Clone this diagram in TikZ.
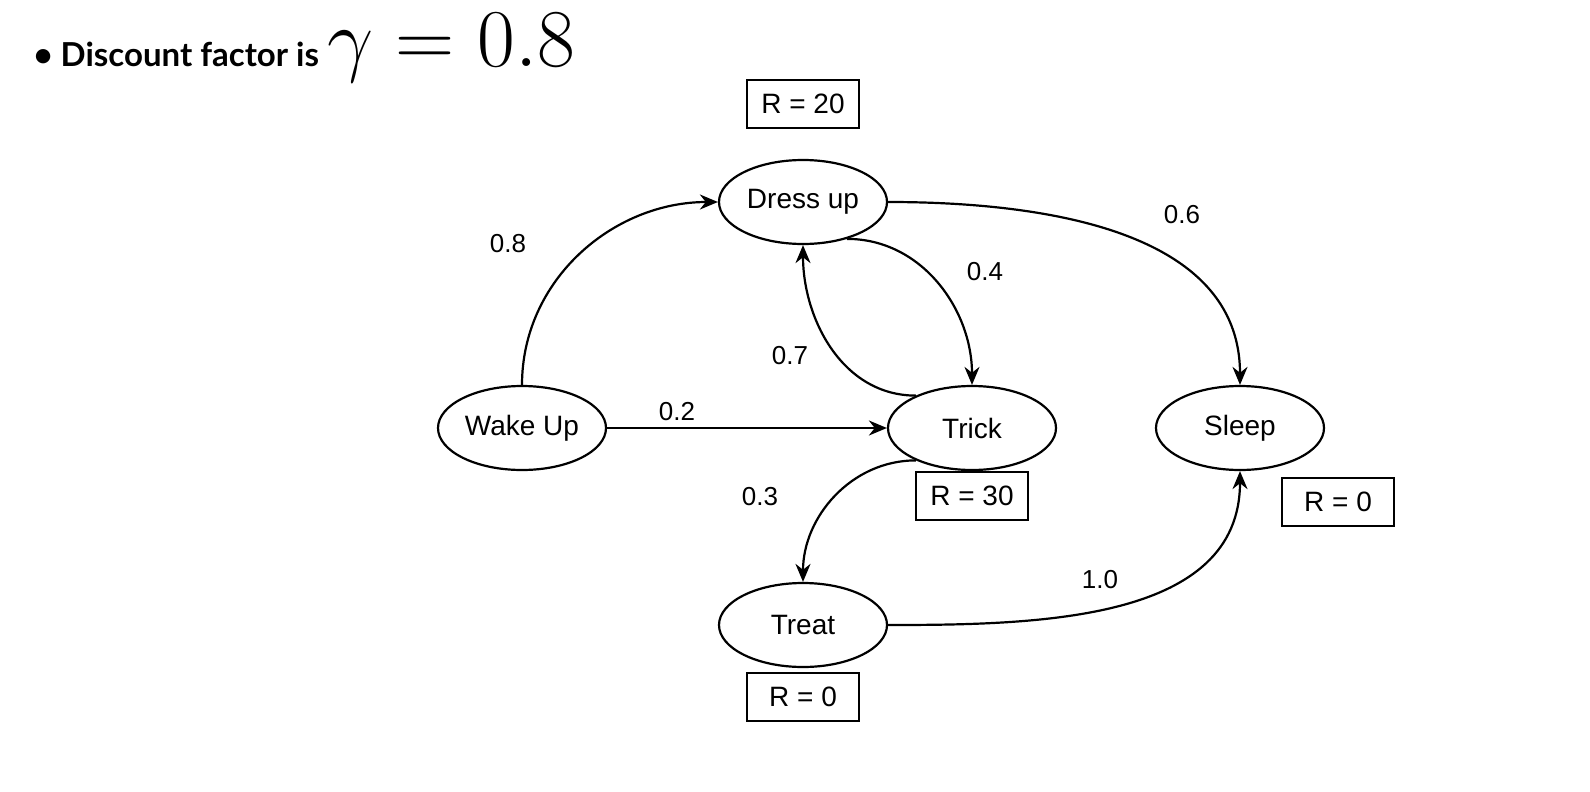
\documentclass[tikz,border=0pt]{standalone}
\usepackage{fontspec}
\usepackage{graphicx}
\setmainfont{Liberation Sans}
\newfontfamily\titlefont{Lato}
\usetikzlibrary{shapes.geometric,arrows.meta}
\begin{document}
\begin{tikzpicture}[x=1pt,y=-1pt,
  st/.style={ellipse,draw,line width=2.2pt,minimum width=168pt,minimum height=84pt,inner sep=0pt,font=\fontsize{28}{30}\selectfont},
  rw/.style={rectangle,draw,line width=2.2pt,minimum width=112pt,minimum height=48pt,inner sep=0pt,font=\fontsize{28}{30}\selectfont},
  lb/.style={font=\fontsize{26}{30}\selectfont},
  ed/.style={line width=2.2pt,-{Stealth[length=18pt,width=15pt]}}]
\useasboundingbox (0,0) rectangle (1590,792);
\node[anchor=west,font=\titlefont\bfseries\fontsize{33}{36}\selectfont] (title) at (30,48) {\textbullet\ Discount factor is \scalebox{3.3}{$\gamma = 0.8$}};
\node[st] (dress) at (803,202) {Dress up};
\node[st] (wake) at (522,428) {Wake Up};
\node[st] (trick) at (972,428) {Trick};
\node[st] (sleep) at (1240,428) {Sleep};
\node[st] (treat) at (803,625) {Treat};
\node[rw] (r20) at (803,104) {R = 20};
\node[rw] (r30) at (972,496) {R = 30};
\node[rw] (r0s) at (1338,502) {R = 0};
\node[rw] (r0t) at (803,697) {R = 0};
\draw[ed] (wake.north) to[out=90,in=180] (dress.west);
\node[lb] (l08) at (508,244) {0.8};
\draw[ed] (dress.-40) to[out=0,in=90] (trick.north);
\node[lb] (l04) at (985,272) {0.4};
\draw[ed] (trick.150) to[out=180,in=-90] (dress.south);
\node[lb] (l07) at (790,356) {0.7};
\draw[ed] (dress.east) to[out=0,in=90] (sleep.north);
\node[lb] (l06) at (1182,215) {0.6};
\draw[ed] (wake.east) -- (trick.west);
\node[lb] (l02) at (677,412) {0.2};
\draw[ed] (trick.-150) to[out=180,in=90] (treat.north);
\node[lb] (l03) at (760,497) {0.3};
\draw[ed] (treat.east) to[out=0,in=-90] (sleep.south);
\node[lb] (l10) at (1100,580) {1.0};
\end{tikzpicture}
\end{document}
